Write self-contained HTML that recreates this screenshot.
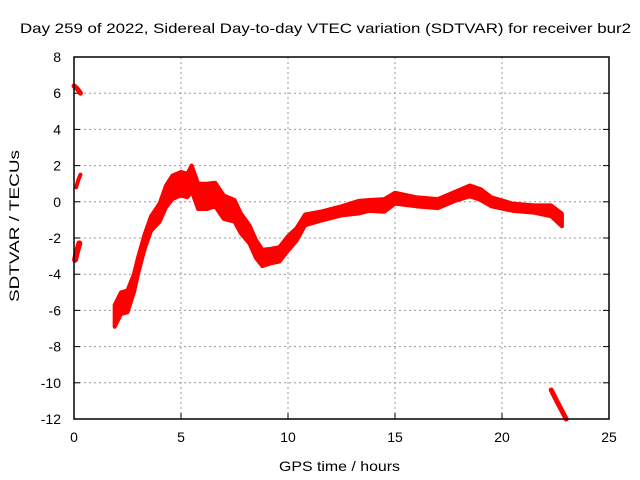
<!DOCTYPE html>
<html><head><meta charset="utf-8"><style>
body{margin:0;background:#fff}
svg{display:block;font-family:"Liberation Sans",sans-serif}
</style></head><body>
<svg id="chart" width="640" height="480" viewBox="0 0 640 480">
<rect width="640" height="480" fill="#fff"/>
<text x="20" y="33" font-size="14" textLength="611" lengthAdjust="spacingAndGlyphs">Day 259 of 2022, Sidereal Day-to-day VTEC variation (SDTVAR) for receiver bur2</text>
<text x="279" y="471" font-size="14" textLength="121" lengthAdjust="spacingAndGlyphs">GPS time / hours</text>
<text transform="translate(19,302) rotate(-90)" font-size="14" textLength="152" lengthAdjust="spacingAndGlyphs">SDTVAR / TECUs</text>
<g id="grid"></g><g id="data"></g>
<rect x="74" y="57" width="535" height="362" fill="none" stroke="#000" stroke-width="1.5"/>
</svg>
<script>
const xTicks=[0,5,10,15,20,25];
const yTicks=[8,6,4,2,0,-2,-4,-6,-8,-10,-12];
const segA_t=[0.0,0.15,0.3], segA_v=[6.4,6.25,6.0];
const segB_t=[0.1,0.2,0.3], segB_v=[0.8,1.2,1.5];
const segC_t=[0.05,0.15,0.25], segC_v=[-3.2,-2.7,-2.3];
const main_t=[1.9,2.2,2.5,2.8,3.0,3.3,3.6,4.0,4.3,4.6,5.0,5.3,5.5,5.8,6.2,6.6,7.0,7.5,7.8,8.2,8.5,8.8,9.2,9.6,10,10.4,10.8,11.5,12.5,13.3,13.8,14.5,15,16,17,17.8,18.5,19,19.5,20.5,21.5,22.3,22.8];
const main_v=[-6.3,-5.6,-5.5,-4.5,-3.5,-2.2,-1.2,-0.6,0.3,0.8,1.0,0.9,1.3,0.3,0.3,0.4,-0.3,-0.5,-1.2,-1.8,-2.6,-3.1,-3.0,-2.9,-2.3,-1.8,-1.0,-0.8,-0.5,-0.3,-0.2,-0.2,0.2,0.0,-0.1,0.3,0.6,0.4,0.0,-0.3,-0.4,-0.5,-1.0];
const main_w=[1.2,1.2,1.2,1.0,0.9,0.8,0.8,1.0,1.2,1.3,1.3,1.3,1.4,1.4,1.4,1.3,1.3,1.2,1.1,1.0,1.0,0.9,0.8,0.8,0.8,0.7,0.6,0.5,0.5,0.7,0.6,0.7,0.6,0.5,0.5,0.5,0.6,0.6,0.5,0.4,0.4,0.6,0.7];
const segE_t=[22.3,22.6,23.0], segE_v=[-10.4,-11.1,-12.0];
const X=t=>74+t*535/25, Y=v=>57+(8-v)*362/20;
const NS='http://www.w3.org/2000/svg';
const grid=document.getElementById('grid'), data=document.getElementById('data');
function el(tag,attrs,parent){const e=document.createElementNS(NS,tag);for(const k in attrs)e.setAttribute(k,attrs[k]);parent.appendChild(e);return e;}
xTicks.forEach(t=>{
 if(t>0&&t<25){const g=el('line',{x1:X(t),x2:X(t),y1:57,y2:419,stroke:'#999','stroke-dasharray':'2,3'},grid);
 
 }
 el('line',{x1:X(t),x2:X(t),y1:419,y2:413,stroke:'#000'},grid);
 const l=el('text',{x:X(t),y:442,'font-size':14,'text-anchor':'middle'},grid);l.textContent=t;
 
 
});
yTicks.forEach(v=>{
 if(v<8&&v>-12){const g=el('line',{x1:74,x2:609,y1:Y(v),y2:Y(v),stroke:'#999','stroke-dasharray':'2,3'},grid);
 
 }
 el('line',{x1:74,x2:80,y1:Y(v),y2:Y(v),stroke:'#000'},grid);
 el('line',{x1:609,x2:603,y1:Y(v),y2:Y(v),stroke:'#000'},grid);
 const l=el('text',{x:61,y:Y(v)+5,'font-size':14,'text-anchor':'end'},grid);l.textContent=v;
 
 
});
function line(ts,vs,w,name){
 const p=el('polyline',{points:ts.map((t,i)=>X(t)+','+Y(vs[i])).join(' '),fill:'none',stroke:'#f00','stroke-width':w,'stroke-linejoin':'round','stroke-linecap':'round'},data);
 
 
}
line(segA_t,segA_v,5,'series-segment-a');
line(segB_t,segB_v,4,'series-segment-b');
line(segC_t,segC_v,6,'series-segment-c');
line(segE_t,segE_v,5,'series-segment-e');
const up=main_t.map((t,i)=>X(t)+','+Y(main_v[i]+main_w[i]/2));
const lo=main_t.map((t,i)=>X(t)+','+Y(main_v[i]-main_w[i]/2)).reverse();
const band=el('polygon',{points:up.concat(lo).join(' '),fill:'#f00',stroke:'#f00','stroke-width':4,'stroke-linejoin':'round'},data);


</script>
</body></html>
